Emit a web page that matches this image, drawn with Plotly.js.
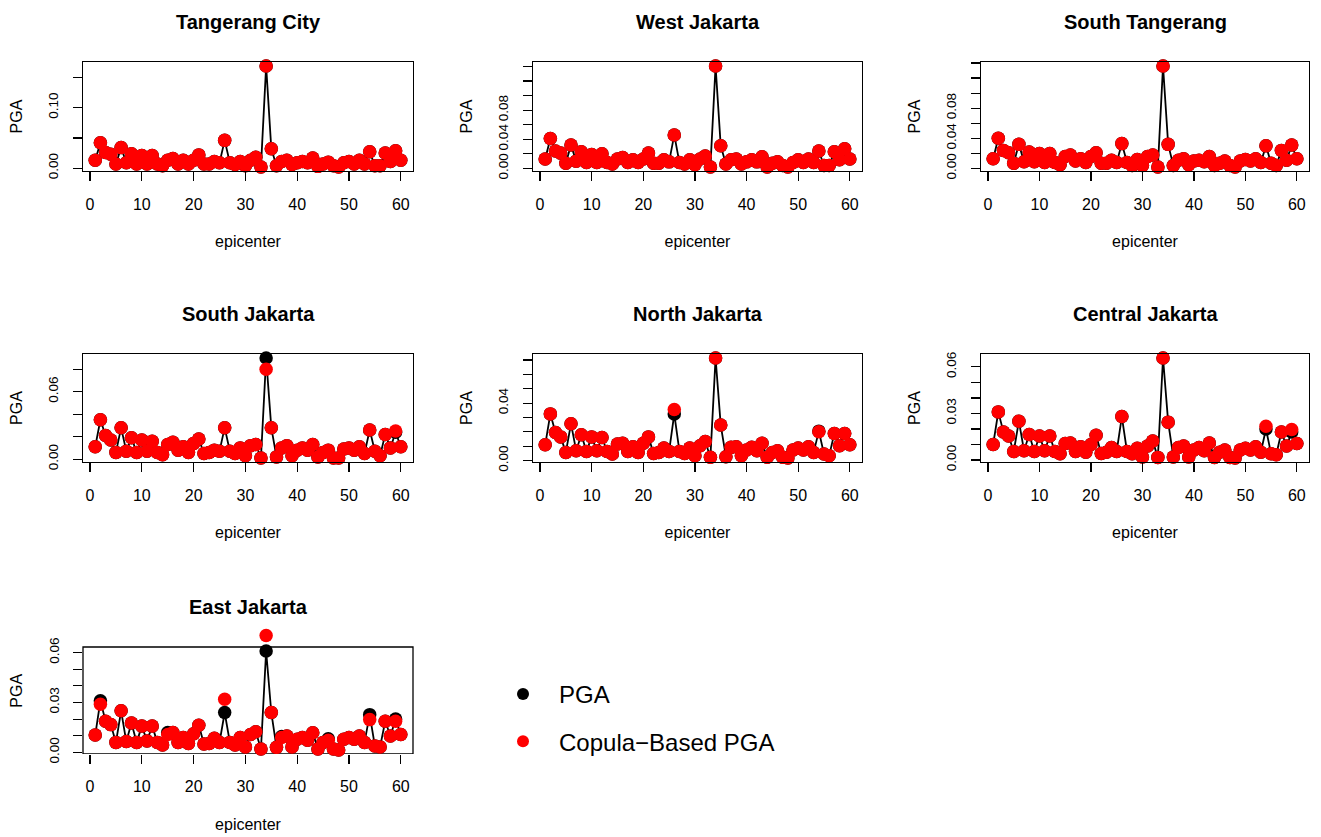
<!DOCTYPE html>
<html>
<head>
<meta charset="utf-8">
<script src="https://cdn.plot.ly/plotly-3.0.1.min.js"></script>
<style>html,body{margin:0;padding:0;background:#fff;}#chart{width:1321px;height:837px;}</style>
</head>
<body>
<div id="chart"></div>
<script>
// ---------- data ----------
const epicenter = Array.from({length: 60}, (_, i) => i + 1);

const regions = ["Tangerang City", "West Jakarta", "South Tangerang", "South Jakarta", "North Jakarta", "Central Jakarta", "East Jakarta"];

const pgaTangerangCity = [0.013,0.042,0.026,0.023,0.007,0.034,0.009,0.024,0.007,0.021,0.007,0.021,0.007,0.004,0.013,0.016,0.007,0.013,0.007,0.013,0.022,0.007,0.007,0.011,0.009,0.046,0.009,0.006,0.011,0.004,0.013,0.018,0.002,0.169,0.032,0.004,0.011,0.013,0.006,0.009,0.011,0.009,0.017,0.003,0.007,0.010,0.004,0.002,0.009,0.011,0.007,0.013,0.007,0.027,0.004,0.004,0.025,0.011,0.029,0.013];
const copTangerangCity = [0.013,0.042,0.026,0.023,0.007,0.034,0.009,0.024,0.007,0.021,0.007,0.021,0.007,0.004,0.013,0.016,0.007,0.013,0.007,0.013,0.022,0.007,0.007,0.011,0.009,0.046,0.009,0.006,0.011,0.004,0.013,0.018,0.002,0.169,0.032,0.004,0.011,0.013,0.006,0.009,0.011,0.009,0.017,0.003,0.007,0.010,0.004,0.002,0.009,0.011,0.007,0.013,0.007,0.027,0.004,0.004,0.025,0.011,0.029,0.013];

const pgaWestJakarta = [0.013,0.041,0.024,0.021,0.007,0.032,0.010,0.023,0.008,0.019,0.008,0.020,0.008,0.006,0.013,0.015,0.008,0.012,0.008,0.013,0.021,0.007,0.007,0.012,0.009,0.046,0.008,0.006,0.012,0.005,0.013,0.017,0.002,0.1405,0.031,0.006,0.012,0.013,0.006,0.009,0.012,0.009,0.016,0.002,0.007,0.009,0.004,0.002,0.008,0.012,0.008,0.013,0.008,0.024,0.004,0.004,0.023,0.012,0.027,0.013];
const copWestJakarta = [0.013,0.041,0.024,0.021,0.007,0.032,0.010,0.023,0.008,0.019,0.008,0.020,0.008,0.006,0.013,0.015,0.008,0.012,0.008,0.013,0.021,0.007,0.007,0.012,0.009,0.046,0.008,0.006,0.012,0.005,0.013,0.017,0.002,0.1405,0.031,0.006,0.012,0.013,0.006,0.009,0.012,0.009,0.016,0.002,0.007,0.009,0.004,0.002,0.008,0.012,0.008,0.013,0.008,0.024,0.004,0.004,0.023,0.012,0.027,0.013];

const pgaSouthTangerang = [0.013,0.040,0.024,0.021,0.007,0.032,0.009,0.022,0.009,0.020,0.008,0.020,0.008,0.005,0.016,0.018,0.010,0.013,0.008,0.016,0.021,0.007,0.007,0.011,0.008,0.033,0.008,0.004,0.012,0.004,0.016,0.018,0.002,0.136,0.032,0.004,0.011,0.013,0.005,0.010,0.011,0.009,0.016,0.004,0.007,0.010,0.004,0.002,0.010,0.012,0.010,0.013,0.008,0.030,0.007,0.004,0.024,0.011,0.031,0.013];
const copSouthTangerang = [0.013,0.040,0.024,0.021,0.007,0.032,0.009,0.022,0.009,0.020,0.008,0.020,0.008,0.005,0.016,0.018,0.010,0.013,0.008,0.016,0.021,0.007,0.007,0.011,0.008,0.033,0.008,0.004,0.012,0.004,0.016,0.018,0.002,0.136,0.032,0.004,0.011,0.013,0.005,0.010,0.011,0.009,0.016,0.004,0.007,0.010,0.004,0.002,0.010,0.012,0.010,0.013,0.008,0.030,0.007,0.004,0.024,0.011,0.031,0.013];

const pgaSouthJakarta = [0.011,0.035,0.021,0.017,0.006,0.028,0.007,0.019,0.006,0.017,0.007,0.016,0.006,0.004,0.013,0.015,0.008,0.011,0.006,0.014,0.018,0.005,0.006,0.008,0.007,0.028,0.007,0.005,0.010,0.003,0.012,0.013,0.001,0.090,0.028,0.002,0.010,0.012,0.003,0.008,0.010,0.008,0.013,0.002,0.006,0.008,0.001,0.001,0.009,0.010,0.008,0.011,0.005,0.026,0.007,0.003,0.022,0.010,0.024,0.011];
const copSouthJakarta = [0.011,0.035,0.021,0.017,0.006,0.028,0.007,0.019,0.006,0.017,0.007,0.016,0.006,0.004,0.013,0.015,0.008,0.011,0.006,0.014,0.018,0.005,0.006,0.008,0.007,0.028,0.007,0.005,0.010,0.003,0.012,0.013,0.001,0.080,0.028,0.002,0.010,0.012,0.003,0.008,0.010,0.008,0.013,0.002,0.006,0.008,0.001,0.001,0.009,0.010,0.008,0.011,0.005,0.026,0.007,0.003,0.022,0.010,0.025,0.011];

const pgaNorthJakarta = [0.011,0.0325,0.0195,0.0165,0.0057,0.0257,0.0069,0.018,0.0064,0.0165,0.0069,0.016,0.0064,0.0046,0.0115,0.012,0.0064,0.0096,0.0057,0.012,0.0165,0.005,0.0057,0.0087,0.0064,0.0325,0.0064,0.005,0.0087,0.0034,0.0103,0.0133,0.0023,0.0714,0.0247,0.0027,0.0092,0.0096,0.0034,0.0073,0.0092,0.0069,0.012,0.0023,0.0057,0.0069,0.0023,0.0018,0.0073,0.0087,0.0073,0.0096,0.0057,0.0205,0.0046,0.0034,0.0188,0.0103,0.0188,0.011];
const copNorthJakarta = [0.011,0.0325,0.0195,0.0165,0.0057,0.0257,0.0069,0.018,0.0064,0.0165,0.0069,0.016,0.0064,0.0046,0.0115,0.012,0.0064,0.0096,0.0057,0.012,0.0165,0.005,0.0057,0.0087,0.0064,0.0355,0.0064,0.005,0.0087,0.0034,0.0103,0.0133,0.0023,0.0714,0.0247,0.0027,0.0092,0.0096,0.0034,0.0073,0.0092,0.0069,0.012,0.0023,0.0057,0.0069,0.0023,0.0018,0.0073,0.0087,0.0073,0.0096,0.0057,0.020,0.0046,0.0034,0.0188,0.0103,0.0188,0.011];

const pgaCentralJakarta = [0.010,0.031,0.018,0.0155,0.0055,0.025,0.006,0.0165,0.0055,0.0155,0.006,0.0155,0.0055,0.004,0.0106,0.011,0.0055,0.0085,0.005,0.010,0.016,0.0042,0.005,0.008,0.0055,0.028,0.0055,0.004,0.0076,0.002,0.009,0.0123,0.0017,0.0657,0.0244,0.002,0.008,0.009,0.002,0.0064,0.008,0.006,0.011,0.0017,0.005,0.0064,0.0017,0.0013,0.0064,0.0076,0.0064,0.0085,0.005,0.020,0.004,0.0034,0.018,0.009,0.018,0.0106];
const copCentralJakarta = [0.010,0.031,0.018,0.0155,0.0055,0.025,0.006,0.0165,0.0055,0.0155,0.006,0.0155,0.0055,0.004,0.0106,0.011,0.0055,0.0085,0.005,0.010,0.016,0.0042,0.005,0.008,0.0055,0.028,0.0055,0.004,0.0076,0.002,0.009,0.0123,0.0017,0.0657,0.0244,0.002,0.008,0.009,0.002,0.0064,0.008,0.006,0.011,0.0017,0.005,0.0064,0.0017,0.0013,0.0064,0.0076,0.0064,0.0085,0.005,0.0218,0.004,0.0034,0.018,0.009,0.0197,0.0106];

const pgaEastJakarta = [0.0104,0.031,0.0187,0.0167,0.006,0.025,0.0065,0.0177,0.006,0.0158,0.0069,0.0158,0.006,0.0045,0.012,0.012,0.006,0.0089,0.0053,0.0112,0.0163,0.005,0.0053,0.0085,0.006,0.024,0.006,0.0045,0.0089,0.0033,0.0108,0.0124,0.002,0.061,0.024,0.003,0.0095,0.0098,0.0033,0.0079,0.0089,0.0073,0.0118,0.002,0.006,0.0082,0.002,0.0014,0.0079,0.0089,0.0079,0.0098,0.006,0.0227,0.0039,0.0033,0.0187,0.0098,0.020,0.0108];
const copEastJakarta = [0.0104,0.029,0.0187,0.0167,0.006,0.025,0.0065,0.0177,0.006,0.0158,0.0069,0.0158,0.006,0.0045,0.0108,0.012,0.006,0.0089,0.0053,0.0112,0.0163,0.005,0.0053,0.0085,0.006,0.032,0.006,0.0045,0.0089,0.0033,0.0108,0.0124,0.002,0.0703,0.024,0.003,0.0089,0.0098,0.0033,0.0079,0.0089,0.0073,0.0118,0.002,0.006,0.0073,0.002,0.0014,0.0079,0.0089,0.0079,0.0098,0.006,0.0197,0.0039,0.0033,0.0187,0.0098,0.0187,0.0108];

const pgaSeries = [pgaTangerangCity, pgaWestJakarta, pgaSouthTangerang, pgaSouthJakarta, pgaNorthJakarta, pgaCentralJakarta, pgaEastJakarta];
const copulaSeries = [copTangerangCity, copWestJakarta, copSouthTangerang, copSouthJakarta, copNorthJakarta, copCentralJakarta, copEastJakarta];

// y tick positions and the labels that are shown
const yTickVals = [
  [0, 0.05, 0.10, 0.15],
  [0, 0.02, 0.04, 0.06, 0.08, 0.10, 0.12, 0.14],
  [0, 0.02, 0.04, 0.06, 0.08, 0.10, 0.12, 0.14],
  [0, 0.02, 0.04, 0.06, 0.08],
  [0, 0.01, 0.02, 0.03, 0.04, 0.05, 0.06, 0.07],
  [0, 0.01, 0.02, 0.03, 0.04, 0.05, 0.06],
  [0, 0.01, 0.02, 0.03, 0.04, 0.05, 0.06]
];
const yTickText = [
  ["0.00", "", "0.10", ""],
  ["0.00", "", "0.04", "", "0.08", "", "", ""],
  ["0.00", "", "0.04", "", "0.08", "", "", ""],
  ["0.00", "", "", "0.06", ""],
  ["0.00", "", "", "", "0.04", "", "", ""],
  ["0.00", "", "", "0.03", "", "", "0.06"],
  ["0.00", "", "", "0.03", "", "", "0.06"]
];
const xTickVals = [0, 10, 20, 30, 40, 50, 60];
const seriesNames = ["PGA", "Copula\u2212Based PGA"];

// ---------- layout ----------
const W = 1321, H = 837;
const colX = [[83, 413], [533, 862], [981, 1309]];
const rowY = [[62, 171], [354, 462], [647, 754]];
const FONT = "Liberation Sans, Arial, Helvetica, sans-serif";

const traces = [];
const layout = {
  width: W, height: H,
  margin: {l: 0, r: 0, t: 0, b: 0},
  paper_bgcolor: "#ffffff", plot_bgcolor: "#ffffff",
  font: {family: FONT, size: 16, color: "#000"},
  showlegend: true,
  legend: {
    x: 487 / W, y: 1 - 672 / H, xanchor: "left", yanchor: "top",
    font: {family: FONT, size: 24, color: "#000"},
    bgcolor: "rgba(0,0,0,0)", borderwidth: 0,
    traceorder: "grouped", tracegroupgap: 13, itemwidth: 62
  },
  annotations: [],
  shapes: []
};

// axis range as R computes it: data range of the first series, widened by 4%
function rng(arr) {
  const mn = Math.min(...arr), mx = Math.max(...arr);
  const d = (mx - mn) * 0.04;
  return [mn - d, mx + d];
}

regions.forEach((name, i) => {
  const r = Math.floor(i / 3), c = i % 3;
  const xa = "x" + (i + 1), ya = "y" + (i + 1);
  const xk = "xaxis" + (i + 1), yk = "yaxis" + (i + 1);
  const [x0, x1] = colX[c], [y0, y1] = rowY[r];
  const [lo, hi] = rng(pgaSeries[i]);
  // points beyond the box (drawn outside, like R) need extra room above the box
  const cmax = Math.max(...copulaSeries[i]);
  const pxPerUnit = (y1 - y0) / (hi - lo);
  const extraTop = cmax > hi ? (cmax - hi) * pxPerUnit + 8 : 0;
  const hiExt = hi + extraTop / pxPerUnit;
  const topPx = y0 - extraTop;

  layout[xk] = {
    domain: [x0 / W, x1 / W], anchor: ya,
    range: [1 - 59 * 0.04, 60 + 59 * 0.04],
    tickvals: xTickVals, ticks: "outside", ticklen: 9, tickwidth: 1.2, tickcolor: "#000",
    showline: extraTop === 0, linecolor: "#000", linewidth: 1.3, mirror: extraTop === 0,
    showgrid: false, zeroline: false,
    tickfont: {family: FONT, size: 16, color: "#000"},
    ticklabelstandoff: 9,
    title: {text: "epicenter", font: {family: FONT, size: 16, color: "#000"}, standoff: 24}
  };
  layout[yk] = {
    domain: [1 - y1 / H, 1 - topPx / H], anchor: xa,
    range: [lo, hiExt],
    tickvals: yTickVals[i], ticktext: yTickText[i], tickangle: -90,
    ticks: "outside", ticklen: 9, tickwidth: 1.2, tickcolor: "#000",
    showline: extraTop === 0, linecolor: "#000", linewidth: 1.3, mirror: extraTop === 0,
    showgrid: false, zeroline: false,
    tickfont: {family: FONT, size: 13.5, color: "#000"},
    ticklabelstandoff: 9,
    title: {text: "PGA", font: {family: FONT, size: 16, color: "#000"}, standoff: 19}
  };
  if (extraTop > 0) {
    layout.shapes.push({
      type: "rect", xref: xa + " domain", yref: ya,
      x0: 0, x1: 1, y0: lo, y1: hi,
      line: {color: "#000", width: 1.3}, fillcolor: "rgba(0,0,0,0)", layer: "below"
    });
  }
  layout.annotations.push({
    text: "<b>" + name + "</b>", xref: "paper", yref: "paper",
    x: (x0 + x1) / 2 / W, y: 1 - (y0 - 40) / H, xanchor: "center", yanchor: "middle",
    showarrow: false, font: {family: FONT, size: 20, color: "#000"}
  });
  traces.push({
    x: epicenter, y: pgaSeries[i], xaxis: xa, yaxis: ya, type: "scatter",
    mode: "lines+markers", name: seriesNames[0], showlegend: false,
    line: {color: "#000", width: 1.8}, marker: {color: "#000", size: 13.5},
    cliponaxis: false
  });
  traces.push({
    x: epicenter, y: copulaSeries[i], xaxis: xa, yaxis: ya, type: "scatter",
    mode: "markers", name: seriesNames[1], showlegend: false,
    marker: {color: "#ff0000", size: 13.5},
    cliponaxis: false
  });
});

// legend-only entries
traces.push({x: [null], y: [null], xaxis: "x1", yaxis: "y1", type: "scatter", mode: "markers",
  name: seriesNames[0], legendgroup: "a", marker: {color: "#000", size: 12}, showlegend: true});
traces.push({x: [null], y: [null], xaxis: "x1", yaxis: "y1", type: "scatter", mode: "markers",
  name: seriesNames[1], legendgroup: "b", marker: {color: "#ff0000", size: 12}, showlegend: true});

Plotly.newPlot("chart", traces, layout, {displayModeBar: false, staticPlot: true});
</script>
</body>
</html>
